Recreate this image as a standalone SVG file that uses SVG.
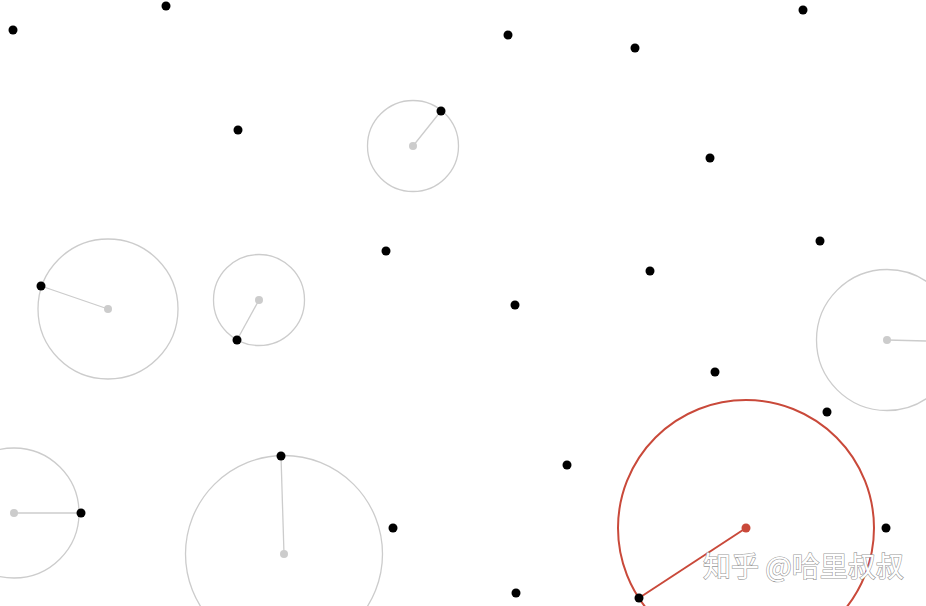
<svg xmlns="http://www.w3.org/2000/svg" width="926" height="606" viewBox="0 0 926 606">
<style>
.pt{fill:#000}
.c{fill:none;stroke:#cccccc;stroke-width:1.3}
.ln{stroke:#cccccc;stroke-width:1.3}
.cd{fill:#cccccc}
.rc{fill:none;stroke:#c9493a;stroke-width:2}
.rl{stroke:#c9493a;stroke-width:2}
.rd{fill:#c9493a}
.wm{font-family:"Noto Sans CJK SC","Noto Sans",sans-serif;font-size:28px;fill:#ffffff;stroke:#999999;stroke-width:1.2;paint-order:stroke}
</style>
<rect width="926" height="606" fill="#fff"/>
<g id="connectors">
<line class="ln" x1="413" y1="146" x2="441" y2="111"/>
<line class="ln" x1="108" y1="309" x2="41" y2="286"/>
<line class="ln" x1="259" y1="300" x2="237" y2="340"/>
<line class="ln" x1="14" y1="513" x2="81" y2="513"/>
<line class="ln" x1="284" y1="554" x2="281" y2="456"/>
<line class="ln" x1="887" y1="340" x2="926" y2="341"/>
<line class="rl" x1="746" y1="528" x2="639" y2="598"/>
</g>
<g id="circles">
<g id="c1"><circle class="c" cx="413" cy="146" r="45.5"/><circle class="cd" cx="413" cy="146" r="4"/></g>
<g id="c2"><circle class="c" cx="108" cy="309" r="70"/><circle class="cd" cx="108" cy="309" r="4"/></g>
<g id="c3"><circle class="c" cx="259" cy="300" r="45.5"/><circle class="cd" cx="259" cy="300" r="4"/></g>
<g id="c4"><circle class="c" cx="14" cy="513" r="65"/><circle class="cd" cx="14" cy="513" r="4"/></g>
<g id="c5"><circle class="c" cx="284" cy="554" r="98.5"/><circle class="cd" cx="284" cy="554" r="4"/></g>
<g id="c6"><circle class="c" cx="887" cy="340" r="70.5"/><circle class="cd" cx="887" cy="340" r="4"/></g>
<g id="red"><circle class="rc" cx="746" cy="528" r="128"/><circle class="rd" cx="746" cy="528" r="4.5"/></g>
</g>
<g id="points">
<circle class="pt" cx="13" cy="30" r="4.5"/>
<circle class="pt" cx="166" cy="6" r="4.5"/>
<circle class="pt" cx="508" cy="35" r="4.5"/>
<circle class="pt" cx="635" cy="48" r="4.5"/>
<circle class="pt" cx="803" cy="10" r="4.5"/>
<circle class="pt" cx="238" cy="130" r="4.5"/>
<circle class="pt" cx="441" cy="111" r="4.5"/>
<circle class="pt" cx="710" cy="158" r="4.5"/>
<circle class="pt" cx="820" cy="241" r="4.5"/>
<circle class="pt" cx="386" cy="251" r="4.5"/>
<circle class="pt" cx="650" cy="271" r="4.5"/>
<circle class="pt" cx="515" cy="305" r="4.5"/>
<circle class="pt" cx="41" cy="286" r="4.5"/>
<circle class="pt" cx="237" cy="340" r="4.5"/>
<circle class="pt" cx="715" cy="372" r="4.5"/>
<circle class="pt" cx="827" cy="412" r="4.5"/>
<circle class="pt" cx="567" cy="465" r="4.5"/>
<circle class="pt" cx="81" cy="513" r="4.5"/>
<circle class="pt" cx="281" cy="456" r="4.5"/>
<circle class="pt" cx="393" cy="528" r="4.5"/>
<circle class="pt" cx="886" cy="528" r="4.5"/>
<circle class="pt" cx="516" cy="593" r="4.5"/>
<circle class="pt" cx="639" cy="598" r="4.5"/>
</g>
<text class="wm" x="703" y="577">知乎 @哈里叔叔</text>
</svg>
